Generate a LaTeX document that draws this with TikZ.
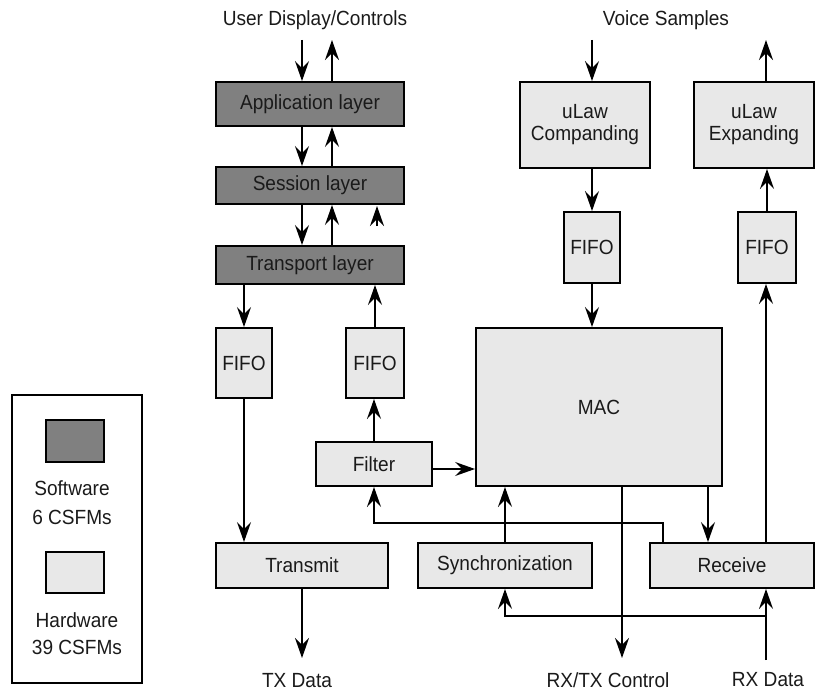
\documentclass[tikz,border=0pt]{standalone}
\usepackage{fontspec}
\setmainfont[FakeStretch=0.93]{Liberation Sans}
\usetikzlibrary{arrows.meta}
\definecolor{swgray}{HTML}{808080}
\definecolor{hwgray}{HTML}{E8E8E8}
\definecolor{ink}{HTML}{1A1A1A}
\begin{document}
\begin{tikzpicture}[x=1pt,y=-1pt,
  font=\fontsize{20.5}{22}\selectfont, text=ink,
  blk/.style={draw=black, line width=1.9pt, inner sep=0pt, align=center},
  sw/.style={blk, fill=swgray},
  hw/.style={blk, fill=hwgray},
  arr/.style={line width=1.8pt, -{Stealth[length=20pt,width=14pt,inset=7pt]}},
  lbl/.style={inner sep=0pt}]
\useasboundingbox (0,0) rectangle (817,698);

% protocol stack (software)
\node[sw, minimum width=188pt, minimum height=44pt] (app) at (310,104) {Application layer};
\node[sw, minimum width=188pt, minimum height=37pt] (ses) at (310,185.5) {Session layer};
\node[sw, minimum width=188pt, minimum height=38pt] (tra) at (310,265) {Transport layer};

% hardware blocks
\node[hw, minimum width=56pt, minimum height=70pt] (fl) at (244,363) {FIFO};
\node[hw, minimum width=58pt, minimum height=70pt] (fr) at (375,363) {FIFO};
\node[hw, minimum width=116pt, minimum height=44pt] (flt) at (374,464) {Filter};
\node[hw, minimum width=246pt, minimum height=158pt] (mac) at (599,407) {MAC};
\node[hw, minimum width=130pt, minimum height=86pt] (cmp) at (585,125) {uLaw\\Companding};
\node[hw, minimum width=56pt, minimum height=71pt] (fc) at (592,247.5) {FIFO};
\node[hw, minimum width=120pt, minimum height=86pt] (exp) at (754,125) {uLaw\\Expanding};
\node[hw, minimum width=58pt, minimum height=71pt] (fe) at (767,247.5) {FIFO};
\node[hw, minimum width=172pt, minimum height=45pt] (txm) at (302,565.5) {Transmit};
\node[hw, minimum width=174pt, minimum height=45pt] (syn) at (505,565.5) {Synchronization};
\node[hw, minimum width=164pt, minimum height=45pt] (rcv) at (732,565.5) {Receive};

% external signal labels
\node[lbl] (ud) at (315,20) {User Display/Controls};
\node[lbl] (vs) at (666,20) {Voice Samples};
\node[lbl] (txd) at (297,681) {TX Data};
\node[lbl] (rtc) at (608,680) {RX/TX Control};
\node[lbl] (rxd) at (768,680) {RX Data};

% free ends and routing points
\coordinate (udDn) at (302,40);
\coordinate (udUp) at (332,40);
\coordinate (vsIn) at (592,40);
\coordinate (exOut) at (766,40);
\coordinate (txOut) at (302,658);
\coordinate (ctlOut) at (622,658);
\coordinate (rxIn) at (766,660);
\coordinate (rxSplit) at (766,616);
\coordinate (fbTop) at (663,523);
\coordinate (colA) at (708,0);
\coordinate (lone) at (377,226);

% stack traffic
\draw[arr] (udDn) -- (udDn |- app.north);
\draw[arr] (udUp |- app.north) -- (udUp);
\draw[arr] (udDn |- app.south) -- (udDn |- ses.north);
\draw[arr] (udUp |- ses.north) -- (udUp |- app.south);
\draw[arr] (udDn |- ses.south) -- (udDn |- tra.north);
\draw[arr] (udUp |- tra.north) -- (udUp |- ses.south);
\draw[arr] (lone) -- ++(0,-20);

% transmit path
\draw[arr] (fl.north |- tra.south) -- (fl.north);
\draw[arr] (fl.south) -- (fl.south |- txm.north);
\draw[arr] (txm.south) -- (txOut);

% receive path to the stack
\draw[arr] (flt.north) -- (flt.north |- fr.south);
\draw[arr] (fr.north) -- (fr.north |- tra.south);
\draw[arr] ([yshift=-5pt]flt.east) -- ([yshift=-5pt]flt.east -| mac.west);

% voice path
\draw[arr] (vsIn) -- (vsIn |- cmp.north);
\draw[arr] (vsIn |- cmp.south) -- (vsIn |- fc.north);
\draw[arr] (fc.south) -- (fc.south |- mac.north);
\draw[arr] (exOut |- rcv.north) -- (exOut |- fe.south);
\draw[arr] (fe.north) -- (fe.north |- exp.south);
\draw[arr] (exOut |- exp.north) -- (exOut);

% MAC and radio interface
\draw[arr] (syn.north) -- (syn.north |- mac.south);
\draw[arr] (ctlOut |- mac.south) -- (ctlOut);
\draw[arr] (colA |- mac.south) -- (colA |- rcv.north);
\draw[arr] (fbTop |- rcv.north) -- (fbTop) -| (flt.south);
\draw[arr] (rxIn) -- (rxIn |- rcv.south);
\draw[arr] (rxSplit) -| (syn.south);

% legend
\node[draw=black, line width=1.7pt, minimum width=130pt, minimum height=288pt, inner sep=0pt] (leg) at (77,539) {};
\node[sw, minimum width=58pt, minimum height=42pt] (legSw) at (75,441) {};
\node[hw, minimum width=58pt, minimum height=41pt] (legHw) at (75,572.5) {};
\node[lbl] (legSwA) at (72,488) {Software};
\node[lbl] (legSwB) at (72,517) {6 CSFMs};
\node[lbl] (legHwA) at (77,620) {Hardware};
\node[lbl] (legHwB) at (77,647) {39 CSFMs};
\end{tikzpicture}
\end{document}
